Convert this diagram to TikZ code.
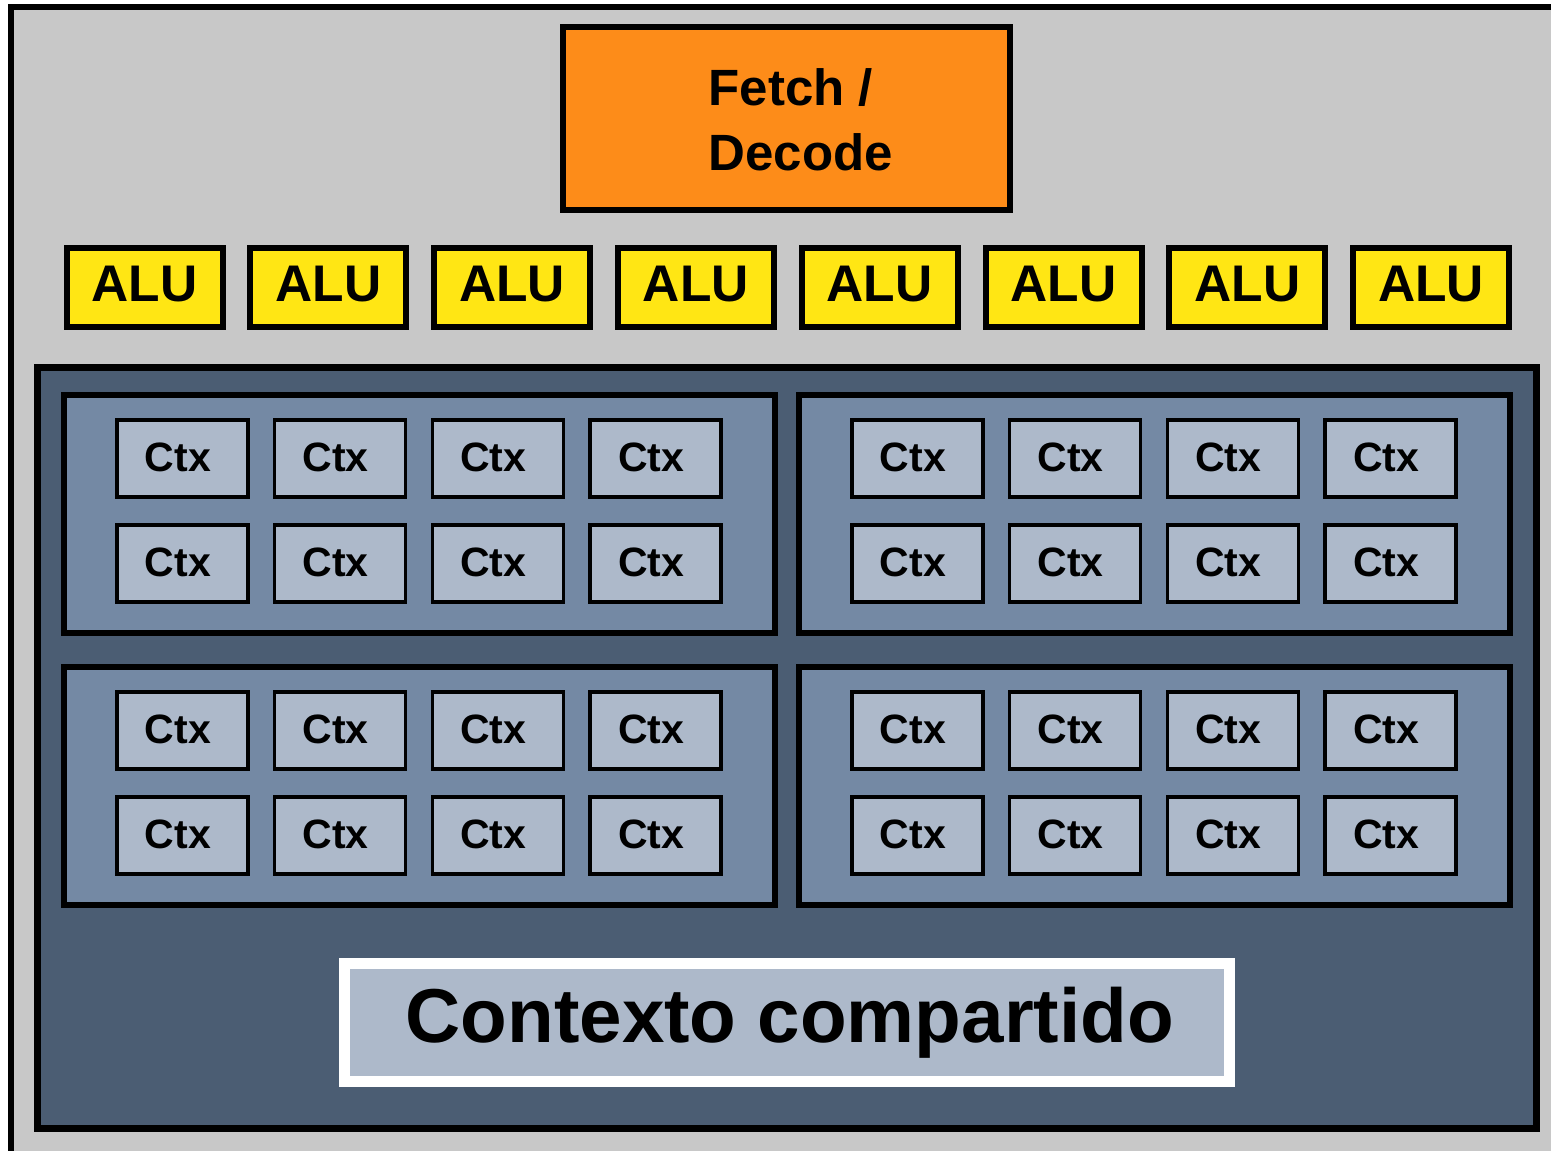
\documentclass[tikz,border=0pt]{standalone}
\usepackage{fontspec}
\setmainfont{Liberation Sans}
\definecolor{bggray}{HTML}{C8C8C8}
\definecolor{fetchor}{HTML}{FD8C19}
\definecolor{aluyel}{HTML}{FFE614}
\definecolor{darkbl}{HTML}{4B5D73}
\definecolor{panelbl}{HTML}{7489A4}
\definecolor{ctxbl}{HTML}{ADB9CA}
\tikzset{
  alubox/.style={draw=black, fill=aluyel, line width=6pt, minimum width=156pt, minimum height=79pt, inner sep=0pt,
    font=\bfseries\fontsize{51.5}{51.5}\selectfont, text height=36.5pt, text depth=8pt},
  ctxbox/.style={draw=black, fill=ctxbl, line width=3.5pt, minimum width=131pt, minimum height=77pt, inner sep=0pt,
    font=\bfseries\fontsize{41}{41}\selectfont, text height=30pt, text depth=4pt},
  panelbox/.style={draw=black, fill=panelbl, line width=6pt, minimum width=711pt, minimum height=238pt, inner sep=0pt},
}
\begin{document}
\begin{tikzpicture}[x=1pt,y=-1pt]
\path[use as bounding box] (0,0) rectangle (1551,1151);
\clip (0,0) rectangle (1551,1151);
% outer chip
\draw[fill=bggray, line width=6pt] (11,7) rectangle (1580,1180);
% fetch/decode
\node[draw=black, fill=fetchor, line width=6pt, minimum width=447pt, minimum height=183pt, inner sep=0pt] (fetch) at (786.5,118.5) {};
\node[anchor=west, inner sep=0pt, align=left, font=\bfseries\fontsize{51}{65}\selectfont] (fetchtxt) at (708.5,119.5) {Fetch /\\Decode};
% ALUs
\foreach \i in {0,...,7}{
  \node[alubox] (alu\i) at (144.5+183.8*\i,287.5) {ALU};
}
% context storage
\node[draw=black, fill=darkbl, line width=7pt, minimum width=1499pt, minimum height=761pt, inner sep=0pt] (ctxstore) at (786.5,747.5) {};
\node[panelbox] (pTL) at (419.5,514) {};
\node[panelbox] (pTR) at (1154.5,514) {};
\node[panelbox] (pBL) at (419.5,786) {};
\node[panelbox] (pBR) at (1154.5,786) {};
\foreach \r/\y in {0/458.5,1/563.5,2/730.5,3/835.5}{
  \foreach \c in {0,...,3}{
    \node[ctxbox] (cL\r\c) at (182.5+157.7*\c,\y) {Ctx\kern9pt};
    \node[ctxbox] (cR\r\c) at (917.5+157.7*\c,\y) {Ctx\kern9pt};
  }
}
\node[draw=white, fill=ctxbl, line width=11pt, minimum width=884.5pt, minimum height=118pt, inner sep=0pt,
  font=\bfseries\fontsize{76.4}{76.4}\selectfont] (shared) at (786.75,1022.5) {\kern6pt Contexto compartido};
\end{tikzpicture}
\end{document}
